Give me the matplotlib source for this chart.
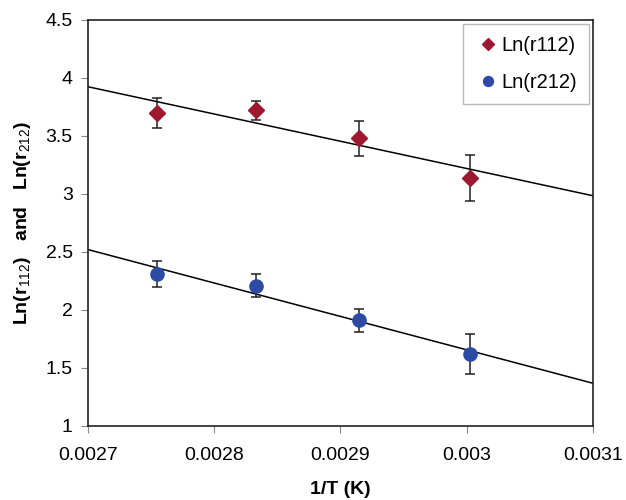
import matplotlib.pyplot as plt
import numpy as np

plt.rcParams["font.family"] = ["Liberation Sans", "DejaVu Sans"]
plt.rcParams["mathtext.fontset"] = "custom"
plt.rcParams["mathtext.rm"] = "Liberation Sans"

# 1/T values (K^-1)
inv_t = [0.002755, 0.002833, 0.002915, 0.003003]

# Ln(r112) with error
ln_r112 = [3.70, 3.72, 3.48, 3.14]
err_r112 = [0.13, 0.08, 0.15, 0.20]

# Ln(r212) with error
ln_r212 = [2.31, 2.21, 1.91, 1.62]
err_r212 = [0.11, 0.10, 0.10, 0.17]

x_ticks = [0.0027, 0.0028, 0.0029, 0.003, 0.0031]
x_ticklabels = ["0.0027", "0.0028", "0.0029", "0.003", "0.0031"]
y_ticks = [1, 1.5, 2, 2.5, 3, 3.5, 4, 4.5]
y_ticklabels = ["1", "1.5", "2", "2.5", "3", "3.5", "4", "4.5"]

red = "#9E1830"
blue = "#2D4BA5"

fig = plt.figure(figsize=(6.26, 5), dpi=100)
ax = fig.add_axes([0.1406, 0.148, 0.8064, 0.812])

xs = np.array(inv_t)
xline = np.array([0.0027, 0.0031])
for ys, errs, color, marker, ms, label in [
    (ln_r112, err_r112, red, "D", 8, "Ln(r112)"),
    (ln_r212, err_r212, blue, "o", 9.5, "Ln(r212)"),
]:
    # least-squares trend line over full x range
    slope, icpt = np.polyfit(xs, ys, 1)
    ax.plot(xline, slope * xline + icpt, color="black", lw=1.1, zorder=2)
    ax.errorbar(xs, ys, yerr=errs, fmt="none", ecolor="#222222",
                elinewidth=1.1, capsize=3.6, capthick=1.1, zorder=3)
    ax.plot(xs, ys, linestyle="none", marker=marker, markersize=ms,
            color=color, markeredgecolor=color, label=label, zorder=4)

ax.set_xlim(0.0027, 0.0031)
ax.set_ylim(1, 4.5)
ax.set_xticks(x_ticks)
ax.set_xticklabels(x_ticklabels)
ax.set_yticks(y_ticks)
ax.set_yticklabels(y_ticklabels)
ax.tick_params(axis="both", labelsize=14, direction="out", length=5,
               color="#888888")
ax.tick_params(axis="x", pad=10)
ax.tick_params(axis="y", pad=6)

for s in ax.spines.values():
    s.set_color("#222222")
    s.set_linewidth(1.2)

ax.set_xlabel("1/T (K)", fontsize=14, fontweight="bold", labelpad=12)
ax.set_ylabel(r"Ln(r$_{\mathrm{112}}$)   and   Ln(r$_{\mathrm{212}}$)",
              fontsize=14, fontweight="bold", labelpad=9)

leg = ax.legend(loc="upper right", fontsize=14.5, frameon=True, fancybox=False,
                edgecolor="#aaaaaa", handletextpad=0.0, handlelength=1.3,
                labelspacing=0.9, borderpad=0.6, borderaxespad=0.2,
                markerscale=0.75)
leg.get_frame().set_linewidth(1.0)

fig.savefig("out.png", dpi=100)
